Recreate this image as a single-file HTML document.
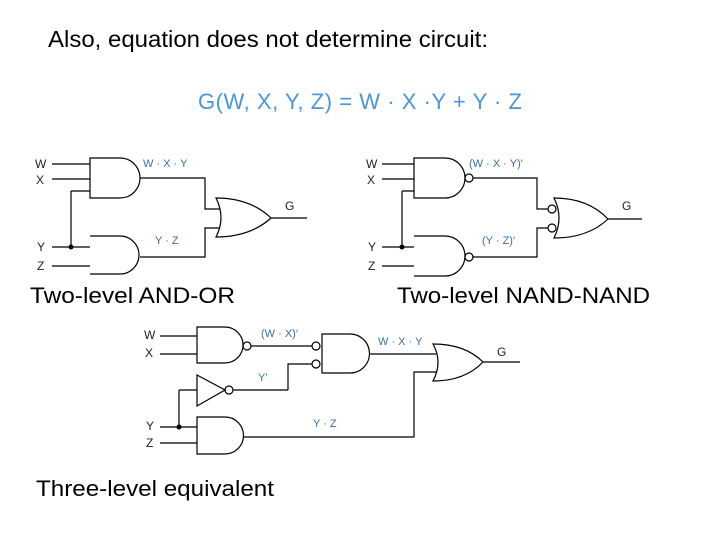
<!DOCTYPE html>
<html><head><meta charset="utf-8"><style>
html,body{margin:0;padding:0;background:#fff;}
svg{display:block;}
.t{font-family:"Liberation Sans",sans-serif;fill:#000;}
.l{font-family:"Liberation Sans",sans-serif;fill:#3a6ea5;font-size:11px;}
.p{font-family:"Liberation Sans",sans-serif;fill:#222;font-size:12px;}
</style></head><body>
<svg width="720" height="540" viewBox="0 0 720 540" xmlns="http://www.w3.org/2000/svg">
<g fill="none" stroke="#000" stroke-width="1.2">
<path d="M52 164H90M52 179H90M71 191H90M71 191V247M52 247H90M52 266H90"/>
<path d="M90 158H120A20 20 0 0 1 120 198H90Z"/>
<path d="M90 236H120A19 19 0 0 1 120 274H90"/>
<path d="M140 178H205V209H220M140 257H205V228H220"/>
<path d="M216 198Q226 218 216 237Q250 237 271 218Q250 198 216 198Z"/>
<path d="M271 218H307"/>
<path d="M382 164H414M382 179H414M402 191H414M402 191V247M382 247H414M382 266H414"/>
<path d="M414 158H445A20 20 0 0 1 445 198H414Z"/>
<path d="M414 236H445A20 20 0 0 1 445 276H414"/>
<circle cx="469" cy="178" r="4"/><circle cx="469" cy="257" r="4"/>
<path d="M473 178H537V209H548M473 257H537V228H548"/>
<circle cx="552" cy="209" r="4"/><circle cx="552" cy="228" r="4"/>
<path d="M554 198Q564 218 554 238Q588 238 608 219Q588 198 554 198Z"/>
<path d="M608 219H642"/>
<path d="M160 336H197M160 354H197"/>
<path d="M197 327H225A18 18 0 0 1 225 363H197Z"/>
<circle cx="247" cy="346" r="4"/>
<path d="M251 346H312M288 390V364H312"/>
<circle cx="316" cy="346" r="4"/><circle cx="316" cy="364" r="4"/>
<path d="M322 334H350A19.5 19.5 0 0 1 350 373H322Z"/>
<path d="M369 354H436M243 437H414V372H436"/>
<path d="M433 344Q443 362 433 381Q465 381 483 362Q465 344 433 344Z"/>
<path d="M483 362H520"/>
<path d="M197 375L225 390L197 406Z"/>
<circle cx="229" cy="390" r="4"/>
<path d="M233 390H288M179 390H197M179 390V427M160 427H197M160 443H197"/>
<path d="M197 417H225A18.5 18.5 0 0 1 225 454H197Z"/>
</g>
<circle cx="71" cy="247" r="2.5" fill="#000"/>
<circle cx="402" cy="247" r="2.5" fill="#000"/>
<circle cx="179" cy="427" r="2.5" fill="#000"/>
<text class="t" x="48" y="47" font-size="23" textLength="440" lengthAdjust="spacingAndGlyphs">Also, equation does not determine circuit:</text>
<text x="198" y="109" font-family="Liberation Sans,sans-serif" font-size="22" fill="#4a95dc" textLength="324">G(W, X, Y, Z) = W · X ·Y + Y · Z</text>
<g class="p">
<text x="35" y="168">W</text><text x="36" y="184">X</text><text x="37" y="251">Y</text><text x="37" y="270">Z</text>
<text x="285" y="210">G</text>
<text x="366" y="168">W</text><text x="367" y="184">X</text><text x="368" y="251">Y</text><text x="368" y="270">Z</text>
<text x="622" y="210">G</text>
<text x="144" y="339">W</text><text x="145" y="357">X</text><text x="146" y="430">Y</text><text x="146" y="447">Z</text>
<text x="497" y="356">G</text>
</g>
<g class="l">
<text x="143" y="167">W · X · Y</text><text x="155" y="244">Y · Z</text>
<text x="469" y="167">(W · X · Y)′</text><text x="482" y="244">(Y · Z)′</text>
<text x="261" y="337">(W · X)′</text><text x="378" y="345">W · X · Y</text>
<text x="258" y="381">Y′</text><text x="313" y="427">Y · Z</text>
</g>
<text class="t" x="30" y="303" font-size="22" textLength="205" lengthAdjust="spacingAndGlyphs">Two-level AND-OR</text>
<text class="t" x="397" y="303" font-size="22" textLength="253" lengthAdjust="spacingAndGlyphs">Two-level NAND-NAND</text>
<text class="t" x="36" y="496" font-size="22" textLength="238" lengthAdjust="spacingAndGlyphs">Three-level equivalent</text>
</svg>
</body></html>
